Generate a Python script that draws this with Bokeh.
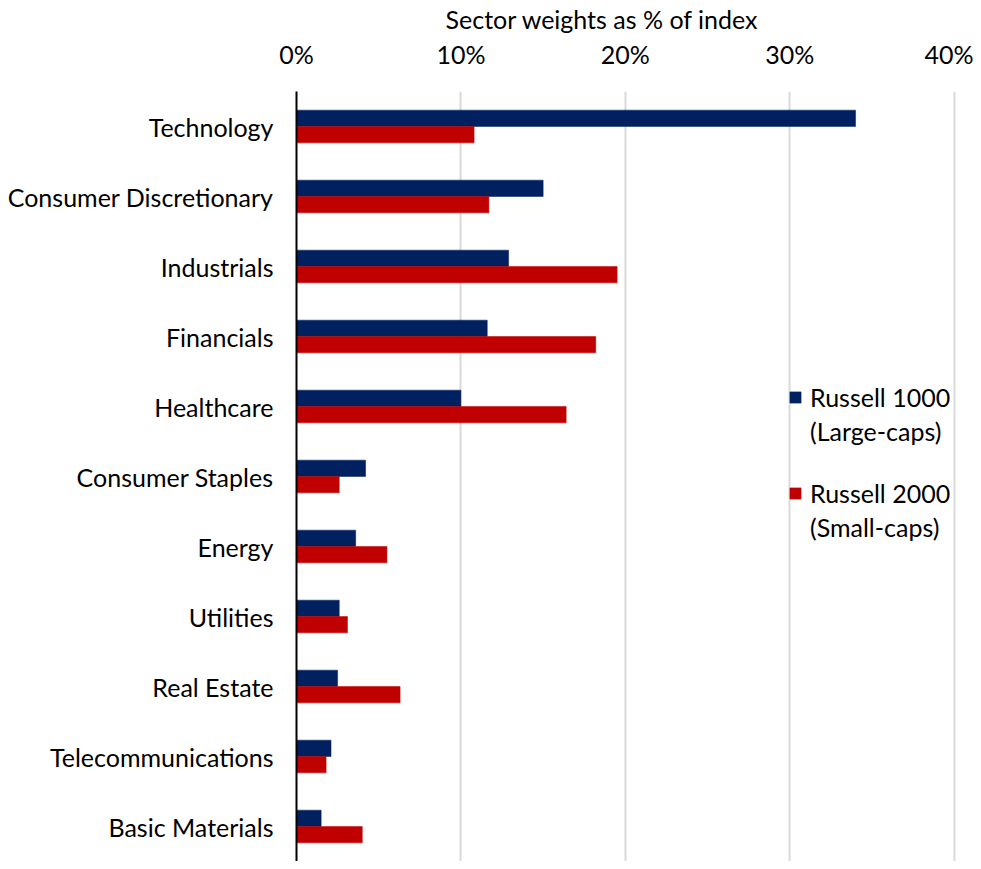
from bokeh.plotting import figure
from bokeh.models import ColumnDataSource, FactorRange, FixedTicker, PrintfTickFormatter, Legend, LegendItem, Title
from bokeh.transform import dodge
from bokeh.embed import file_html
from bokeh.resources import INLINE

sectors = ["Technology", "Consumer Discretionary", "Industrials", "Financials", "Healthcare",
           "Consumer Staples", "Energy", "Utilities", "Real Estate", "Telecommunications",
           "Basic Materials"]
russell_1000 = [34.0, 15.0, 12.9, 11.6, 10.0, 4.2, 3.6, 2.6, 2.5, 2.1, 1.5]
russell_2000 = [10.8, 11.7, 19.5, 18.2, 16.4, 2.6, 5.5, 3.1, 6.3, 1.8, 4.0]
x_ticks = [0, 10, 20, 30, 40]
series_names = ["Russell 1000", "Russell 2000"]
series_notes = ["(Large-caps)", "(Small-caps)"]
axis_title = "Sector weights as % of index"

FONT = "Lato"
FS = "25px"
NAVY = "#002060"
RED = "#C00000"

src = ColumnDataSource(dict(sector=sectors, r1000=russell_1000, r2000=russell_2000))

p = figure(width=973, height=861, output_backend="svg", toolbar_location=None,
           y_range=FactorRange(factors=list(reversed(sectors))),
           x_range=(0, 40.2), x_axis_location="above",
           min_border_left=296, min_border_right=16, min_border_bottom=0, min_border_top=0)
p.outline_line_color = None
p.background_fill_color = "white"

r1 = p.hbar(y=dodge("sector", 0.117, range=p.y_range), right="r1000", left=0, height=0.233,
            source=src, fill_color=NAVY, line_color=NAVY, line_width=0.5)
r2 = p.hbar(y=dodge("sector", -0.117, range=p.y_range), right="r2000", left=0, height=0.233,
            source=src, fill_color=RED, line_color=RED, line_width=0.5)
# invisible renderer used only for the second legend line of each series
blank = p.hbar(y=[], right=[], left=0, height=0.2, fill_alpha=0, line_alpha=0)

# x axis (top)
xa = p.xaxis[0]
xa.ticker = FixedTicker(ticks=x_ticks)
xa.formatter = PrintfTickFormatter(format="%d%%")
xa.axis_line_color = None
xa.major_tick_line_color = None
xa.minor_tick_line_color = None
xa.major_label_text_font = FONT
xa.major_label_text_font_size = FS
xa.major_label_text_color = "black"
xa.major_label_standoff = 17

# y axis
ya = p.yaxis[0]
ya.axis_line_color = "black"
ya.axis_line_width = 2
ya.major_tick_line_color = None
ya.minor_tick_line_color = None
ya.major_label_text_font = FONT
ya.major_label_text_font_size = FS
ya.major_label_text_color = "black"
ya.major_label_standoff = 17

p.xgrid.grid_line_color = "#d9d9d9"
p.xgrid.grid_line_width = 2
p.xgrid.ticker = FixedTicker(ticks=x_ticks)
p.ygrid.grid_line_color = None

t = Title(text=axis_title, align="left", offset=149, text_font=FONT, standoff=3,
          text_font_size=FS, text_font_style="normal", text_color="black")
p.add_layout(t, "above")

def make_legend(name, note, renderer, loc):
    return Legend(items=[LegendItem(label=name, renderers=[renderer]),
                         LegendItem(label=note, renderers=[blank])],
                  location=loc, background_fill_alpha=0, border_line_color=None,
                  padding=0, margin=0, spacing=0,
                  label_text_font=FONT, label_text_font_size=FS, label_text_color="black",
                  glyph_width=14, glyph_height=14, label_standoff=8, label_height=34)

p.add_layout(make_legend(series_names[0], series_notes[0], r1, (492, 413)), "center")
p.add_layout(make_legend(series_names[1], series_notes[1], r2, (492, 317)), "center")

open("out.html", "w").write(file_html(p, INLINE))
